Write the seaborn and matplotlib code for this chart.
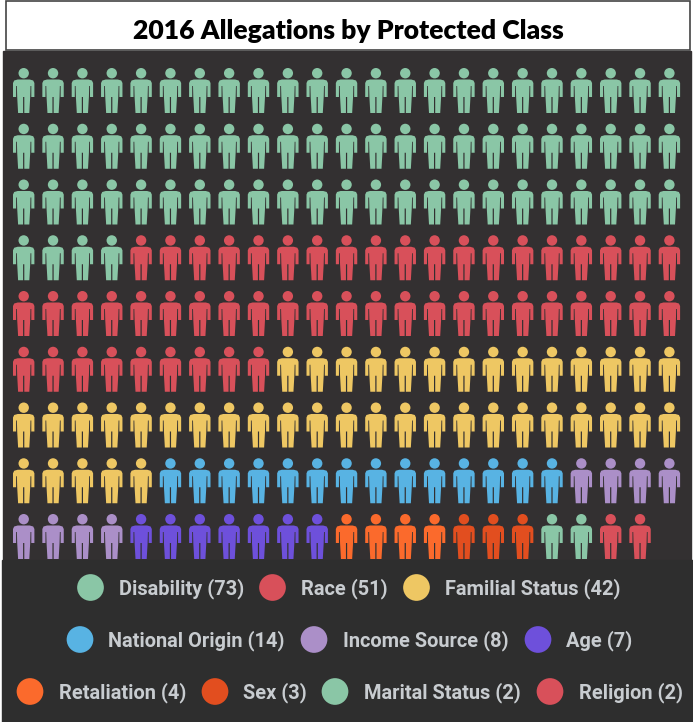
import numpy as np
import pandas as pd
import matplotlib
matplotlib.use('Agg')
import matplotlib.pyplot as plt
import seaborn as sns
from matplotlib.path import Path
from matplotlib.patches import Rectangle

# allegation counts per protected class
classes = ['Disability', 'Race', 'Familial Status', 'National Origin', 'Income Source',
           'Age', 'Retaliation', 'Sex', 'Marital Status', 'Religion']
counts = [73, 51, 42, 14, 8, 7, 4, 3, 2, 2]
colors = ['#8ac6a6', '#d8505a', '#eec763', '#58b3e3', '#ab8fc8',
          '#6e50db', '#fb6a2c', '#e24e1f', '#8ac6a6', '#d8505a']
title = '2016 Allegations by Protected Class'

# legend layout, pixel positions: (class index, circle x, text x)
legend_rows = [
    (587.5, [(0, 90.5, 119), (1, 272.5, 301), (2, 416.5, 445)]),
    (639.5, [(3, 80, 108), (4, 314, 343), (5, 538, 566)]),
    (691.5, [(6, 30, 59), (7, 215, 243), (8, 335, 364), (9, 550, 579)]),
]

per_row = 23


def person_marker():
    # icon drawn in pixels, 45 tall and 21 wide, y going down
    body = np.array([(-6, 11.5), (6, 11.5), (9.5, 12.5), (10.7, 15), (10.7, 29), (7.6, 29), (7.6, 18),
                     (6.8, 18), (6.5, 29), (5.6, 45), (0.6, 45), (0.6, 29), (-0.6, 29), (-0.6, 45),
                     (-5.6, 45), (-6.5, 29), (-6.8, 18), (-7.6, 18), (-7.6, 29), (-10.7, 29),
                     (-10.7, 15), (-9.5, 12.5), (-6, 11.5)], dtype=float)
    body[:, 1] = 22.5 - body[:, 1]
    head = Path.circle((0, 22.5 - 5.2), 5.2)
    return Path.make_compound_path(head, Path(body, closed=True))


# one row per person, filled left to right, top to bottom
people = pd.DataFrame({'group': np.repeat(classes, counts)})
people['row'], people['col'] = np.divmod(np.arange(len(people)), per_row)
people['x'] = 23.7 + people['col'] * 29.35
people['y'] = 90.5 + people['row'] * 55.75

fig = plt.figure(figsize=(6.93, 7.22), dpi=100, facecolor='white')
ax = fig.add_axes([0, 0, 1, 1])
ax.set_xlim(0, 693)
ax.set_ylim(722, 0)
ax.axis('off')

# backgrounds and title box
ax.add_patch(Rectangle((3, 51), 688, 510, color='#333031', zorder=0))
ax.add_patch(Rectangle((2, 560), 691, 162, color='#2e2e2e', zorder=0))
ax.add_patch(Rectangle((6, 1), 684, 48.5, facecolor='white', edgecolor='#444444', lw=1.2, zorder=0))
ax.text(348, 31, title, ha='center', va='center', fontsize=19.1, fontweight='heavy',
        family='Lato', color='black')

palette = dict(zip(classes, colors))
sns.scatterplot(data=people, x='x', y='y', hue='group', palette=palette, marker=person_marker(),
                s=1050, linewidth=0, legend=False, ax=ax)

# legend built by hand because it is centred in three rows
for y, row in legend_rows:
    idx = [r[0] for r in row]
    sns.scatterplot(x=[r[1] for r in row], y=[y] * len(row), hue=[classes[i] for i in idx],
                    palette=palette, s=370, linewidth=0, legend=False, ax=ax)
    for i, cx, tx in row:
        ax.text(tx, y + 1, f'{classes[i]} ({counts[i]})', ha='left', va='center', fontsize=14.4,
                family='Roboto', fontweight='bold', color='#c8ccd0')

ax.set_xlim(0, 693)
ax.set_ylim(722, 0)
fig.savefig('out.png', dpi=100)
plt.close(fig)
